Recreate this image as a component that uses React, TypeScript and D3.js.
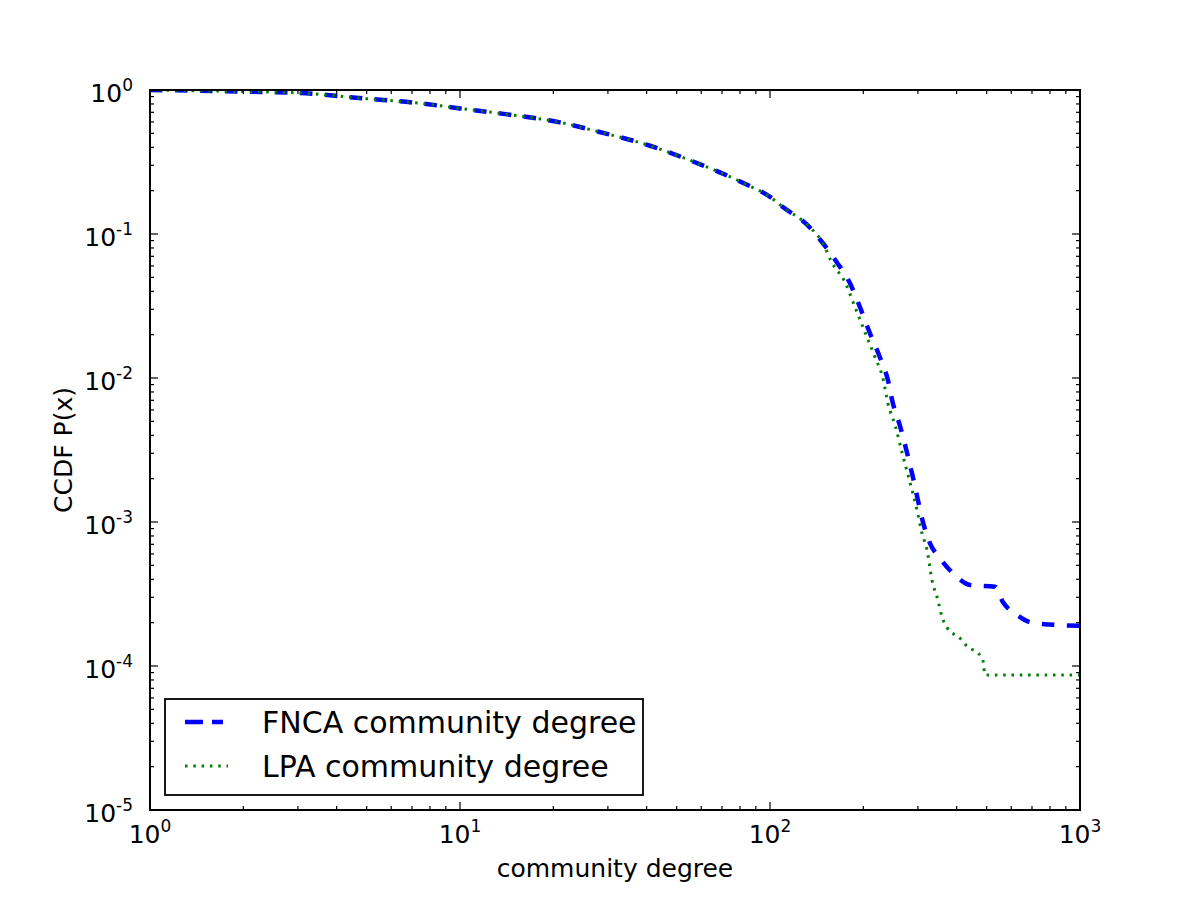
import React, { useEffect } from "react";
import * as d3 from "d3";

// FNCA community degree CCDF (blue dashed)
const fncaDegree = [1, 2, 3, 5, 7, 10, 14, 21, 28, 41, 55, 82, 100, 110, 132, 148, 164, 181, 195, 210, 226, 240, 249, 263, 277, 289, 300, 312, 328, 353, 395, 442, 532, 564, 626, 705, 1000];
const fncaCcdf = [1, 0.975, 0.955, 0.87, 0.82, 0.745, 0.68, 0.596, 0.513, 0.41, 0.326, 0.226, 0.181, 0.154, 0.1155, 0.0866, 0.064, 0.0457, 0.0311, 0.0205, 0.014, 0.0097, 0.0067, 0.0046, 0.003, 0.00205, 0.00142, 0.000985, 0.000714, 0.000562, 0.000428, 0.000365, 0.000355, 0.000278, 0.000226, 0.000199, 0.00019];

// LPA community degree CCDF (green dotted)
const lpaDegree = [1, 2, 3, 5, 7, 10, 14, 21, 28, 41, 55, 82, 100, 110, 132, 148, 158, 175, 188, 203, 218, 232, 240, 254, 267, 280, 298, 309, 321, 333, 348, 359, 373, 410, 435, 469, 486, 494, 1000];
const lpaCcdf = [1, 0.975, 0.955, 0.87, 0.82, 0.745, 0.68, 0.596, 0.513, 0.41, 0.326, 0.226, 0.181, 0.154, 0.1155, 0.0866, 0.064, 0.0457, 0.0311, 0.0205, 0.014, 0.0097, 0.0067, 0.0046, 0.003, 0.00205, 0.00121, 0.00084, 0.00064, 0.000396, 0.000287, 0.000219, 0.000184, 0.000156, 0.000135, 0.000123, 0.00011, 0.0000866, 0.0000866];

const xDomain = [1, 1000];
const yDomain = [1e-5, 1];
const seriesNames = ["FNCA community degree", "LPA community degree"];
const xLabel = "community degree";
const yLabel = "CCDF P(x)";

const W = 1200;
const H = 900;
const L = 150, T = 90, R = 1080, B = 810;
const FONT = "'DejaVu Sans', 'Liberation Sans', sans-serif";

export default function App() {
  useEffect(() => {
    document.body.style.margin = "0";
  }, []);

  const x = d3.scaleLog().domain(xDomain).range([L, R]);
  const y = d3.scaleLog().domain(yDomain).range([B, T]);

  const fnca = fncaDegree.map((d, i) => [d, fncaCcdf[i]] as [number, number]);
  const lpa = lpaDegree.map((d, i) => [d, lpaCcdf[i]] as [number, number]);

  const line = d3
    .line<[number, number]>()
    .x((d) => x(d[0]))
    .y((d) => y(d[1]))
    .curve(d3.curveMonotoneX);

  const isMajor = (v: number) => Math.abs(Math.log10(v) - Math.round(Math.log10(v))) < 1e-9;
  const xTicks = x.ticks();
  const yTicks = y.ticks();
  const expOf = (v: number) => Math.round(Math.log10(v));

  const tickEls: React.ReactNode[] = [];
  xTicks.forEach((v, i) => {
    const len = isMajor(v) ? 8 : 4;
    const px = x(v);
    tickEls.push(<line key={"xb" + i} x1={px} x2={px} y1={B} y2={B - len} stroke="#000" strokeWidth={1.2} />);
    tickEls.push(<line key={"xt" + i} x1={px} x2={px} y1={T} y2={T + len} stroke="#000" strokeWidth={1.2} />);
  });
  yTicks.forEach((v, i) => {
    const len = isMajor(v) ? 8 : 4;
    const py = y(v);
    tickEls.push(<line key={"yl" + i} x1={L} x2={L + len} y1={py} y2={py} stroke="#000" strokeWidth={1.2} />);
    tickEls.push(<line key={"yr" + i} x1={R} x2={R - len} y1={py} y2={py} stroke="#000" strokeWidth={1.2} />);
  });

  const xLabels = xTicks.filter(isMajor).map((v, i) => (
    <text key={"xl" + i} x={x(v)} y={843} textAnchor="middle" fontFamily={FONT} fontSize={25} fill="#000">
      <tspan>10</tspan>
      <tspan fontSize={17} dy={-11}>{String(expOf(v))}</tspan>
    </text>
  ));
  const yLabels = yTicks.filter(isMajor).map((v, i) => (
    <text key={"yl" + i} x={133} y={y(v) + 12} textAnchor="end" fontFamily={FONT} fontSize={25} fill="#000">
      <tspan>10</tspan>
      <tspan fontSize={17} dy={-11}>{String(expOf(v))}</tspan>
    </text>
  ));

  return (
    <svg width={W} height={H} style={{ display: "block", background: "#fff" }}>
      <defs>
        <clipPath id="plotClip">
          <rect x={L} y={T} width={R - L} height={B - T} />
        </clipPath>
      </defs>
      <rect x={0} y={0} width={W} height={H} fill="#fff" />
      <g clipPath="url(#plotClip)">
        <path d={line(fnca) || ""} fill="none" stroke="#0000ff" strokeWidth={4.5} strokeDasharray="12.5 12.5" />
        <path d={line(lpa) || ""} fill="none" stroke="#007f00" strokeWidth={3} strokeDasharray="2.5 5.8" />
      </g>
      {tickEls}
      <rect x={L} y={T} width={R - L} height={B - T} fill="none" stroke="#000" strokeWidth={2} />
      {xLabels}
      {yLabels}
      <text x={(L + R) / 2} y={877} textAnchor="middle" fontFamily={FONT} fontSize={25} fill="#000">{xLabel}</text>
      <text transform={`translate(72, ${(T + B) / 2}) rotate(-90)`} textAnchor="middle" fontFamily={FONT} fontSize={25} fill="#000">{yLabel}</text>
      <g>
        <rect x={165} y={699} width={478} height={96} fill="#fff" stroke="#000" strokeWidth={1.8} />
        <line x1={185} x2={223} y1={722} y2={722} stroke="#0000ff" strokeWidth={4.5} strokeDasharray="18 9" />
        <text x={262} y={733} fontFamily={FONT} fontSize={30} fill="#000">{seriesNames[0]}</text>
        <line x1={185} x2={228} y1={766} y2={766} stroke="#007f00" strokeWidth={3} strokeDasharray="2.5 5.8" />
        <text x={262} y={777} fontFamily={FONT} fontSize={30} fill="#000">{seriesNames[1]}</text>
      </g>
    </svg>
  );
}
